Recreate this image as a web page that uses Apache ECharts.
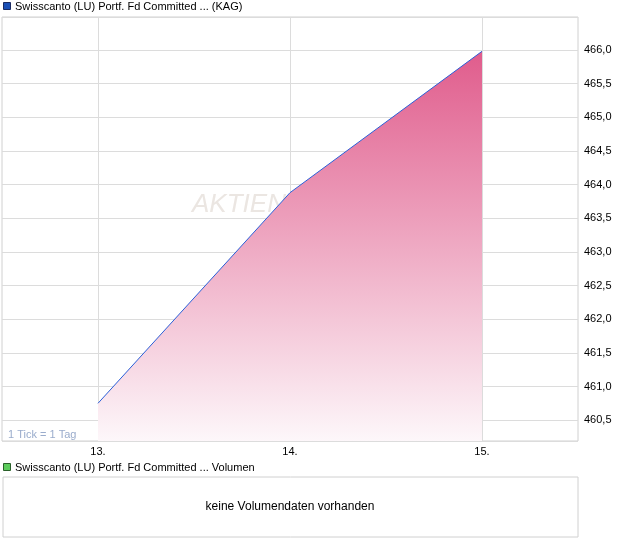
<!DOCTYPE html>
<html>
<head>
<meta charset="utf-8">
<script src="https://cdn.jsdelivr.net/npm/echarts@6/dist/echarts.min.js"></script>
<style>
  html, body { margin: 0; padding: 0; background: #fff; }
  #chart { width: 620px; height: 546px; }
</style>
</head>
<body>
<div id="chart"></div>
<script>
// chart data
var days = ['13.', '14.', '15.']
var prices = [460.75, 463.88, 465.98]
var seriesName = 'Swisscanto (LU) Portf. Fd Committed ... (KAG)'
var volumeName = 'Swisscanto (LU) Portf. Fd Committed ... Volumen'

var font = '"Liberation Sans", Arial, sans-serif'
var chart = echarts.init(document.getElementById('chart'))

chart.setOption({
  animation: false,
  grid: [
    { left: 2, right: 42, top: 17, bottom: 105, show: true, borderColor: '#d0d0d0', borderWidth: 1 },
    { left: 3, right: 42, top: 477, bottom: 9, show: true, borderColor: '#d0d0d0', borderWidth: 1 }
  ],
  xAxis: [{
    type: 'category',
    gridIndex: 0,
    data: days,
    boundaryGap: true,
    axisLine: { show: false },
    axisTick: { show: false },
    axisLabel: { color: '#000', fontFamily: font, fontSize: 11, margin: 5 },
    splitLine: { show: true, alignWithLabel: true, lineStyle: { color: '#dcdcdc', width: 1 } }
  }, {
    type: 'category',
    gridIndex: 1,
    data: days,
    show: false
  }],
  yAxis: [{
    type: 'value',
    gridIndex: 0,
    position: 'right',
    min: 460.19,
    max: 466.49,
    splitNumber: 12,
    axisLine: { show: false },
    axisTick: { show: false },
    axisLabel: {
      color: '#000', fontFamily: font, fontSize: 11, margin: 6,
      showMinLabel: false, showMaxLabel: false,
      formatter: function (v) { return v.toFixed(1).replace('.', ',') }
    },
    splitLine: { show: true, lineStyle: { color: '#dcdcdc', width: 1 } }
  }, {
    type: 'value',
    gridIndex: 1,
    show: false
  }],
  graphic: [
    // legend markers + titles
    { type: 'rect', left: 3, top: 2, z: 10, shape: { width: 7, height: 7 },
      style: { fill: '#1a4fb5', stroke: '#1a2a60', lineWidth: 1 } },
    { type: 'text', left: 15, top: 1, z: 10,
      style: { text: seriesName, fill: '#000', font: '11px ' + font } },
    { type: 'rect', left: 3, top: 463, z: 10, shape: { width: 7, height: 7 },
      style: { fill: '#5ccc5c', stroke: '#2a602a', lineWidth: 1 } },
    { type: 'text', left: 15, top: 462, z: 10,
      style: { text: volumeName, fill: '#000', font: '11px ' + font } },
    // no volume text
    { type: 'text', x: 290, y: 507, z: 10,
      style: { text: 'keine Volumendaten vorhanden', fill: '#000', font: '12px ' + font, align: 'center', verticalAlign: 'middle' } },
    // watermark, sits under the area
    { type: 'text', left: 192, top: 192, z: -1,
      style: { text: 'AKTIENCHECK.DE', fill: '#ebe6e2', font: 'italic small-caps 26px ' + font } },
    // tick note
    { type: 'text', left: 8, top: 429, z: 10,
      style: { text: '1 Tick = 1 Tag', fill: '#9aaccc', font: '11px ' + font } }
  ],
  series: [{
    name: seriesName,
    type: 'line',
    xAxisIndex: 0,
    yAxisIndex: 0,
    data: prices,
    symbol: 'none',
    z: 5,
    lineStyle: { color: '#2a5fd8', width: 1 },
    areaStyle: {
      origin: 'start',
      opacity: 1,
      color: new echarts.graphic.LinearGradient(0, 0, 0, 1, [
        { offset: 0, color: '#e05c8c' },
        { offset: 1, color: '#fdf7fa' }
      ])
    }
  }]
})
</script>
</body>
</html>
